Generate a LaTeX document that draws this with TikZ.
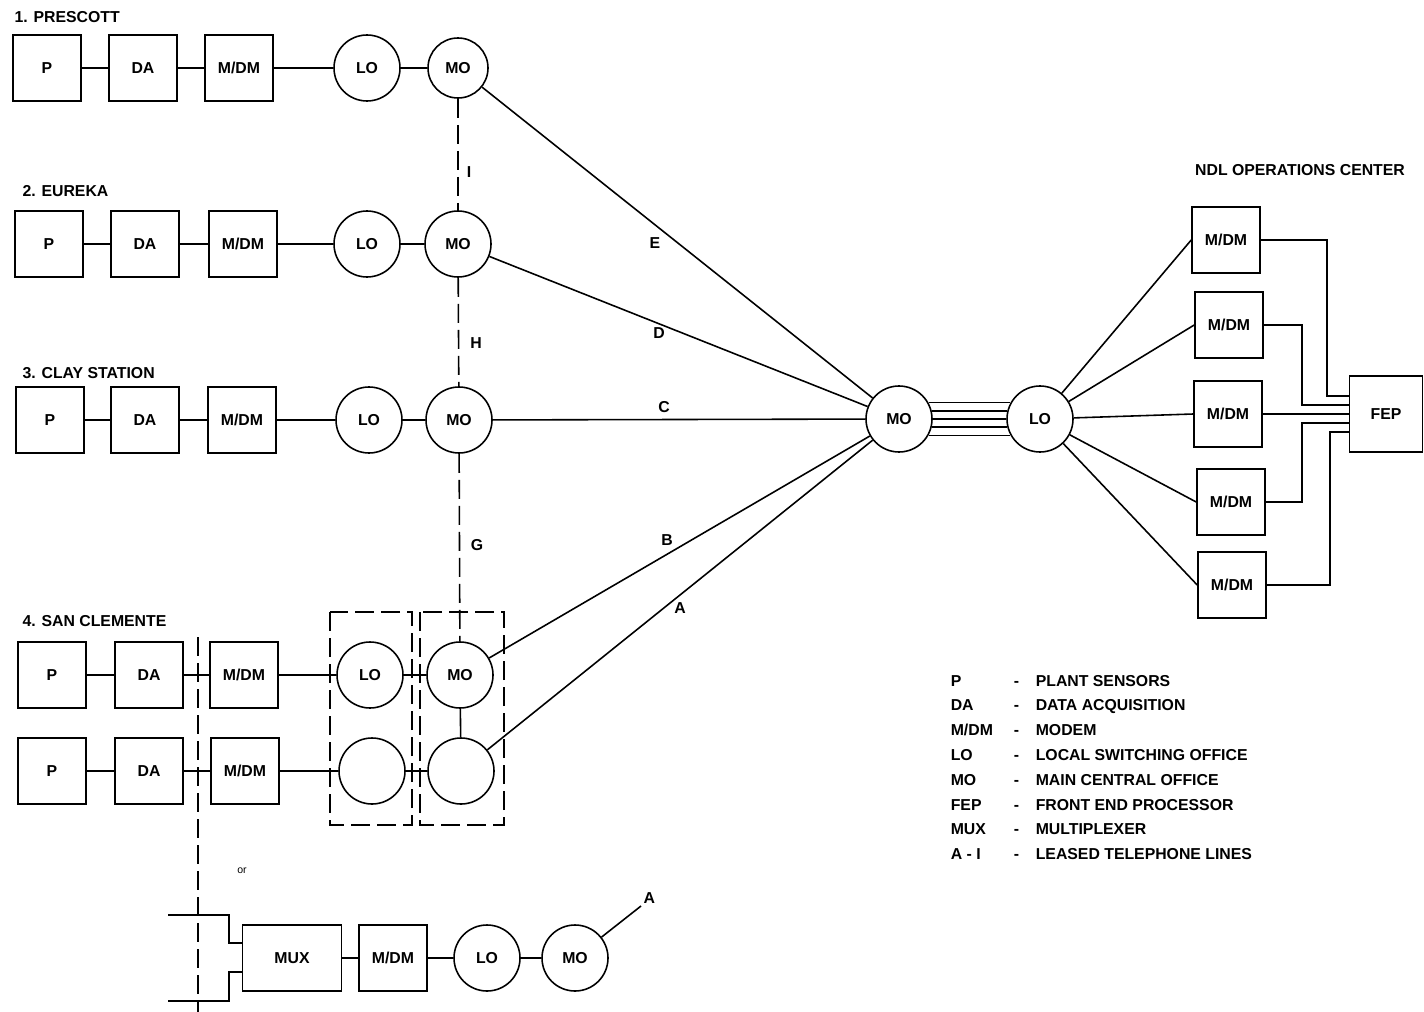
\documentclass[tikz,border=0pt]{standalone}
\usepackage{fontspec}
\setmainfont{Liberation Sans}
\usetikzlibrary{positioning}

\begin{document}
\begin{tikzpicture}[x=0.2mm,y=-0.2mm,line width=0.9pt,
    every node/.style={font=\bfseries\fontsize{9}{10.5}\selectfont},
    unit/.style={draw,minimum width=13.6mm,minimum height=13.2mm,inner sep=0pt},
    office/.style={draw,circle,minimum size=13.2mm,inner sep=0pt},
    lease/.style={dash pattern=on 3.8mm off 1.4mm},
    tag/.style={inner sep=1pt}]
    \useasboundingbox (0,0) rectangle (1424,1012);
%
    \node[tag,anchor=west] (t1) at (12,17) {1. PRESCOTT};
    \node[unit] (p1) at (47,68) {P};
    \node[unit] (da1) at (143,68) {DA};
    \node[unit] (md1) at (239,68) {M/DM};
    \node[office] (lo1) at (367,68) {LO};
    \node[office,minimum size=12mm] (mo1) at (458,68) {MO};
    \draw (p1) -- (da1) -- (md1) -- (lo1) -- (mo1);
%
    \node[tag,anchor=west] (t2) at (20,191) {2. EUREKA};
    \node[unit] (p2) at (49,244) {P};
    \node[unit] (da2) at (145,244) {DA};
    \node[unit] (md2) at (243,244) {M/DM};
    \node[office] (lo2) at (367,244) {LO};
    \node[office] (mo2) at (458,244) {MO};
    \draw (p2) -- (da2) -- (md2) -- (lo2) -- (mo2);
%
    \node[tag,anchor=west] (t3) at (20,373) {3. CLAY STATION};
    \node[unit] (p3) at (50,420) {P};
    \node[unit] (da3) at (145,420) {DA};
    \node[unit] (md3) at (242,420) {M/DM};
    \node[office] (lo3) at (369,420) {LO};
    \node[office] (mo3) at (459,420) {MO};
    \draw (p3) -- (da3) -- (md3) -- (lo3) -- (mo3);
%
    \node[tag,anchor=west] (t4) at (20,621) {4. SAN CLEMENTE};
    \node[unit] (p4) at (52,675) {P};
    \node[unit] (da4) at (149,675) {DA};
    \node[unit] (md4) at (244,675) {M/DM};
    \node[office] (lo4) at (370,675) {LO};
    \node[office] (mo4) at (460,675) {MO};
    \draw (p4) -- (da4) -- (md4) -- (lo4) -- (mo4);
    \node[unit] (p5) at (52,771) {P};
    \node[unit] (da5) at (149,771) {DA};
    \node[unit] (md5) at (245,771) {M/DM};
    \node[office] (lo5) at (372,771) {};
    \node[office] (mo5) at (461,771) {};
    \draw (p5) -- (da5) -- (md5) -- (lo5) -- (mo5);
    \draw (mo4) -- (mo5);
    \draw[lease] (330,612) rectangle (412,825);
    \draw[lease] (420,612) rectangle (504,825);
    \draw[lease] (198,637) -- (198,1012);
%
    \draw[lease] (mo1) -- (mo2);
    \node (lI) at (469,172) {I};
    \draw[lease] (mo2) -- (mo3);
    \node (lH) at (476,343) {H};
    \draw[lease] (mo3) -- (mo4);
    \node (lG) at (477,545) {G};
%
    \node[tag,font=\fontsize{6}{7}\selectfont] (orword) at (242,871) {or};
    \coordinate (inup) at (168,915);
    \coordinate (indn) at (168,1001);
    \node[unit,minimum width=19.8mm] (mux) at (292,958) {MUX};
    \node[unit] (md6) at (393,958) {M/DM};
    \node[office] (lo6) at (487,958) {LO};
    \node[office] (mo6) at (575,958) {MO};
    \draw (mux) -- (md6) -- (lo6) -- (mo6);
    \draw (inup) -| (229,943) -- (mux.west |- 0,943);
    \draw (indn) -| (229,972) -- (mux.west |- 0,972);
    \coordinate (tipA) at (641,906);
    \draw (mo6) -- (tipA) node[tag,anchor=south west] (lA6) {A};
%
    \node[office] (hub) at (899,419) {MO};
    \node[office] (lohub) at (1040,419) {LO};
    \draw (mo1) -- (hub);
    \node (lE) at (655,243) {E};
    \draw (mo2) -- (hub);
    \node (lD) at (659,333) {D};
    \draw (mo3) -- (hub);
    \node (lC) at (664,407) {C};
    \draw (mo4) -- (hub);
    \node (lB) at (667,540) {B};
    \draw (mo5) -- (hub);
    \node (lA) at (680,608) {A};
    \foreach \a/\b in {29/151,14/166,0/180,-14/194,-29/209}
        \draw (hub.\a) -- (lohub.\b);
%
    \node (ndl) at (1300,170) {NDL OPERATIONS CENTER};
    \node[unit] (rm1) at (1226,240) {M/DM};
    \node[unit] (rm2) at (1229,325) {M/DM};
    \node[unit] (rm3) at (1228,414) {M/DM};
    \node[unit] (rm4) at (1231,502) {M/DM};
    \node[unit] (rm5) at (1232,585) {M/DM};
    \node[unit,minimum width=14.6mm,minimum height=15.2mm] (fep) at (1386,414) {FEP};
    \foreach \n in {1,...,5}
        \draw (lohub) -- (rm\n.west);
    \draw (rm1.east) -| (1327,396) -- (fep.west |- 0,396);
    \draw (rm2.east) -| (1302,405) -- (fep.west |- 0,405);
    \draw (rm3) -- (fep);
    \draw (rm4.east) -| (1302,423) -- (fep.west |- 0,423);
    \draw (rm5.east) -| (1330,432) -- (fep.west |- 0,432);
%
    \node[anchor=north west,inner sep=0pt,font=\bfseries\fontsize{9}{14.1}\selectfont] (key) at (950,668) {%
        \begin{tabular}{@{}p{12.6mm}@{}p{4.4mm}@{}l@{}}
        P & - & PLANT SENSORS\\
        DA & - & DATA ACQUISITION\\
        M/DM & - & MODEM\\
        LO & - & LOCAL SWITCHING OFFICE\\
        MO & - & MAIN CENTRAL OFFICE\\
        FEP & - & FRONT END PROCESSOR\\
        MUX & - & MULTIPLEXER\\
        A - I & - & LEASED TELEPHONE LINES
        \end{tabular}};
\end{tikzpicture}
\end{document}
